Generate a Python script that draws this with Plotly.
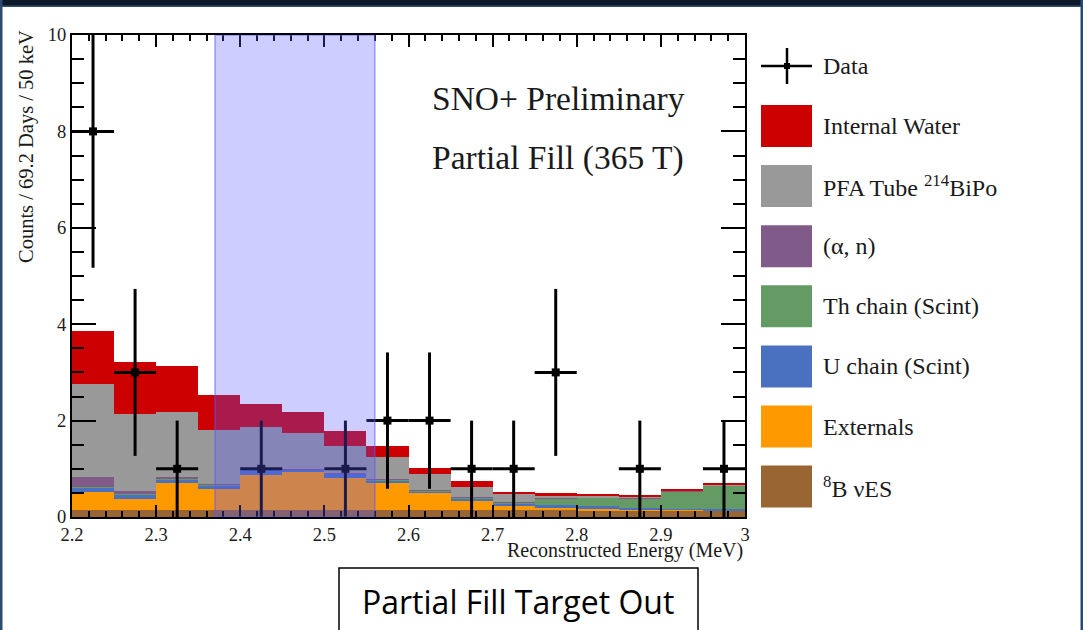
import plotly.graph_objects as go

# ---------------- data ----------------
bin_centers = [2.225, 2.275, 2.325, 2.375, 2.425, 2.475, 2.525, 2.575,
               2.625, 2.675, 2.725, 2.775, 2.825, 2.875, 2.925, 2.975]
bin_width = 0.05

data_counts = [8, 3, 1, 0, 1, 0, 1, 2, 2, 1, 1, 3, 0, 1, 0, 1]

b8_nues = [0.15, 0.15, 0.15, 0.15, 0.15, 0.15, 0.14, 0.14, 0.14, 0.14, 0.14, 0.14, 0.13, 0.13, 0.13, 0.13]
externals = [0.36, 0.23, 0.56, 0.43, 0.73, 0.80, 0.67, 0.58, 0.37, 0.21, 0.09, 0.06, 0.05, 0.03, 0.02, 0.01]
u_chain = [0.11, 0.09, 0.07, 0.07, 0.10, 0.03, 0.09, 0.04, 0.02, 0.03, 0.04, 0.04, 0.04, 0.03, 0.02, 0.02]
th_chain = [0.01, 0.01, 0.02, 0.02, 0.01, 0.01, 0.01, 0.02, 0.02, 0.02, 0.03, 0.15, 0.18, 0.20, 0.36, 0.49]
alpha_n = [0.20, 0.06, 0.02, 0.01, 0.01, 0.01, 0.01, 0.01, 0.01, 0.01, 0.01, 0.01, 0.01, 0.01, 0.01, 0.01]
pfa_bipo = [1.92, 1.59, 1.36, 1.12, 0.86, 0.75, 0.56, 0.45, 0.33, 0.22, 0.16, 0.04, 0.02, 0.02, 0.01, 0.01]
internal_water = [1.10, 1.09, 0.95, 0.73, 0.49, 0.43, 0.30, 0.23, 0.13, 0.115, 0.05, 0.05, 0.05, 0.04, 0.02, 0.03]

roi = [2.37, 2.56]

x_tickvals = [2.2, 2.3, 2.4, 2.5, 2.6, 2.7, 2.8, 2.9, 3.0]
x_ticktext = ["2.2", "2.3", "2.4", "2.5", "2.6", "2.7", "2.8", "2.9", "3"]
y_tickvals = [0, 2, 4, 6, 8, 10]

components = [
    ("<sup>8</sup>B \u03bdES", b8_nues, "#996633"),
    ("Externals", externals, "#ff9900"),
    ("U chain (Scint)", u_chain, "#4a70c0"),
    ("Th chain (Scint)", th_chain, "#649b64"),
    ("(\u03b1, n)", alpha_n, "#805a88"),
    ("PFA Tube <sup>214</sup>BiPo", pfa_bipo, "#999999"),
    ("Internal Water", internal_water, "#cc0000"),
]

# ---------------- layout geometry (pixels) ----------------
W, H = 1083, 630
L, R, T, B = 72, 745, 35, 517
SERIF = "Liberation Serif, Times New Roman, serif"


def px_x(p):
    return (p - L) / (R - L)


def px_y(p):
    return (B - p) / (B - T)


fig = go.Figure()

for name, vals, col in components:
    fig.add_trace(go.Bar(
        x=bin_centers, y=vals, width=bin_width, name=name,
        marker=dict(color=col, line=dict(width=0)),
        showlegend=False, hoverinfo="skip",
    ))

dx = [c for c, n in zip(bin_centers, data_counts) if n > 0]
dy = [n for n in data_counts if n > 0]
derr = [n ** 0.5 for n in dy]
fig.add_trace(go.Scatter(
    x=dx, y=dy, mode="markers", name="Data",
    marker=dict(symbol="square", size=8, color="black"),
    error_y=dict(type="data", array=derr, thickness=3, width=0, color="black"),
    error_x=dict(type="constant", value=bin_width / 2, thickness=3, width=0, color="black"),
    showlegend=False,
))

shapes = []
# ROI band (drawn above the stack)
shapes.append(dict(type="rect", xref="x", yref="y", x0=roi[0], x1=roi[1], y0=0, y1=10,
                   fillcolor="rgba(90,90,255,0.30)", line=dict(color="rgba(90,90,255,0.55)", width=1.5),
                   layer="above"))

# slide frame
shapes.append(dict(type="rect", xref="paper", yref="paper", x0=px_x(0), x1=px_x(W), y0=px_y(0), y1=px_y(6),
                   fillcolor="#0d1828", line=dict(width=0), layer="below"))
shapes.append(dict(type="rect", xref="paper", yref="paper", x0=px_x(0), x1=px_x(W), y0=px_y(5.5), y1=px_y(7),
                   fillcolor="#34506e", line=dict(width=0), layer="below"))
shapes.append(dict(type="rect", xref="paper", yref="paper", x0=px_x(0), x1=px_x(2.5), y0=px_y(0), y1=px_y(H),
                   fillcolor="#2c4a6e", line=dict(width=0), layer="below"))
shapes.append(dict(type="rect", xref="paper", yref="paper", x0=px_x(W - 2.5), x1=px_x(W), y0=px_y(0), y1=px_y(H),
                   fillcolor="#2c4a6e", line=dict(width=0), layer="below"))

# caption box
shapes.append(dict(type="rect", xref="paper", yref="paper", x0=px_x(339), x1=px_x(698), y0=px_y(568), y1=px_y(645),
                   fillcolor="white", line=dict(color="black", width=1.5), layer="above"))

annotations = []

# legend (manual, ROOT style)
leg_x0, leg_x1 = 761, 812
leg_text_x = 821
LEG_FONT = dict(family=SERIF, size=24, color="#1a1a1a")
# Data entry
yd = 66
shapes.append(dict(type="line", xref="paper", yref="paper", x0=px_x(leg_x0), x1=px_x(leg_x1),
                   y0=px_y(yd), y1=px_y(yd), line=dict(color="black", width=2.5)))
shapes.append(dict(type="line", xref="paper", yref="paper", x0=px_x(787), x1=px_x(787),
                   y0=px_y(48), y1=px_y(84), line=dict(color="black", width=2.5)))
shapes.append(dict(type="rect", xref="paper", yref="paper", x0=px_x(784), x1=px_x(790),
                   y0=px_y(yd - 3), y1=px_y(yd + 3), fillcolor="black", line=dict(width=0)))
annotations.append(dict(xref="paper", yref="paper", x=px_x(leg_text_x), y=px_y(yd), text="Data",
                        xanchor="left", yanchor="middle", showarrow=False, font=LEG_FONT))

legend_order = list(reversed(components))
for i, (name, vals, col) in enumerate(legend_order):
    yc = 126 + i * 60.1
    shapes.append(dict(type="rect", xref="paper", yref="paper", x0=px_x(leg_x0), x1=px_x(leg_x1),
                       y0=px_y(yc - 21), y1=px_y(yc + 21), fillcolor=col, line=dict(width=0)))
    annotations.append(dict(xref="paper", yref="paper", x=px_x(leg_text_x), y=px_y(yc), text=name,
                            xanchor="left", yanchor="middle", showarrow=False, font=LEG_FONT))

# in-plot labels
annotations.append(dict(xref="paper", yref="paper", x=px_x(558), y=px_y(99), text="SNO+ Preliminary",
                        xanchor="center", yanchor="middle", showarrow=False,
                        font=dict(family=SERIF, size=33.5, color="#1a1a1a")))
annotations.append(dict(xref="paper", yref="paper", x=px_x(558), y=px_y(158), text="Partial Fill (365 T)",
                        xanchor="center", yanchor="middle", showarrow=False,
                        font=dict(family=SERIF, size=33.5, color="#1a1a1a")))

# axis titles (ROOT style, aligned at axis ends)
annotations.append(dict(xref="paper", yref="paper", x=1.0, y=px_y(550), text="Reconstructed Energy (MeV)",
                        xanchor="right", yanchor="middle", showarrow=False,
                        font=dict(family=SERIF, size=20, color="#1a1a1a")))
annotations.append(dict(xref="paper", yref="paper", x=px_x(27), y=px_y(147), text="Counts / 69.2 Days / 50 keV",
                        xanchor="center", yanchor="middle", showarrow=False, textangle=-90,
                        font=dict(family=SERIF, size=20.5, color="#1a1a1a")))

# caption
annotations.append(dict(xref="paper", yref="paper", x=px_x(518), y=px_y(601), text="Partial Fill Target Out",
                        xanchor="center", yanchor="middle", showarrow=False,
                        font=dict(family="Open Sans, Lato, sans-serif", size=32, color="black")))

fig.update_layout(
    width=W, height=H,
    margin=dict(l=L, r=W - R, t=T, b=H - B, pad=0),
    paper_bgcolor="white", plot_bgcolor="white",
    barmode="stack", bargap=0,
    showlegend=False,
    shapes=shapes, annotations=annotations,
    xaxis=dict(range=[2.2, 3.0], tickmode="array", tickvals=x_tickvals, ticktext=x_ticktext,
               ticks="inside", ticklen=12, tickwidth=2, tickcolor="black",
               showline=True, linewidth=2, linecolor="black", mirror="allticks",
               showgrid=False, zeroline=False,
               minor=dict(ticks="inside", tick0=2.2, dtick=0.02, ticklen=6, tickwidth=1.5, tickcolor="black"),
               tickfont=dict(family=SERIF, size=18.5, color="#1a1a1a")),
    yaxis=dict(range=[0, 10], tickmode="array", tickvals=y_tickvals,
               ticks="inside", ticklen=24, tickwidth=2, tickcolor="black",
               showline=True, linewidth=2, linecolor="black", mirror="allticks",
               showgrid=False, zeroline=False,
               minor=dict(ticks="inside", tick0=0, dtick=0.5, ticklen=12, tickwidth=1.5, tickcolor="black"),
               tickfont=dict(family=SERIF, size=18.5, color="#1a1a1a")),
)

fig.write_html("out.html")
